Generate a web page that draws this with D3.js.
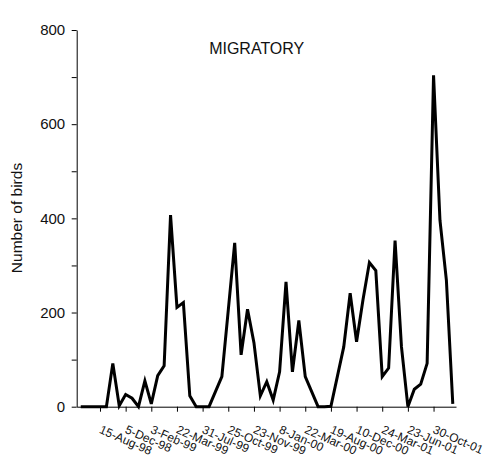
<!DOCTYPE html>
<html>
<head>
<meta charset="utf-8">
<script src="https://cdn.jsdelivr.net/npm/d3@7"></script>
<style>
  body { margin: 0; background: #fff; }
  text { font-family: "Liberation Sans", Arial, sans-serif; fill: #111; }
</style>
</head>
<body>
<div id="chart"></div>
<script>
// Counts per survey (59 surveys)
const birds = [0, 0, 0, 0, 0, 92, 2, 26, 18, 0,
               55, 6, 66, 87, 407, 211, 221, 23, 0, 0,
               0, 32, 64, 205, 348, 110, 207, 136, 23, 53,
               14, 74, 265, 74, 183, 64, 32, 0, 0, 1,
               64, 127, 241, 138, 227, 306, 289, 64, 82, 353,
               127, 0, 37, 48, 92, 704, 396, 269, 6];

// Dates shown on the axis (every 4th survey, starting at the 4th)
const tickLabels = ["15-Aug-98", "5-Dec-98", "3-Feb-99", "22-Mar-99", "31-Jul-99",
                    "25-Oct-99", "23-Nov-99", "8-Jan-00", "22-Mar-00", "19-Aug-00",
                    "10-Dec-00", "24-Mar-01", "23-Jun-01", "30-Oct-01"];
const tickIndex = tickLabels.map((d, i) => 3 + i * 4);

const yTicks = d3.range(0, 801, 100);

let width = 486, height = 456;
let margin = { top: 30, bottom: 49.3, left: 76.7, right: 30 };

let svg = d3.select('#chart')
            .append('svg')
            .attr('width', width)
            .attr('height', height);

// Scales
let xScale = d3.scaleLinear()
               .domain([-0.63, 58.5])
               .range([margin.left, width - margin.right]);

let yScale = d3.scaleLinear()
               .domain([0, 800])
               .range([height - margin.bottom, margin.top]);

// x axis
let xAxis = svg.append('g')
  .attr('transform', `translate(0,${height - margin.bottom})`)
  .call(d3.axisBottom(xScale)
          .tickValues(tickIndex)
          .tickFormat('')
          .tickSize(5)
          .tickSizeOuter(0));

xAxis.selectAll('path, line').attr('stroke', '#000');

// rotated date labels
svg.append('g')
  .selectAll('text')
  .data(tickIndex)
  .enter()
  .append('text')
  .attr('transform', d => `translate(${xScale(d) + 2},${height - margin.bottom + 18}) rotate(24)`)
  .attr('dy', '0.71em')
  .attr('font-size', 12)
  .text((d, i) => tickLabels[i]);

// y axis
let yAxis = svg.append('g')
  .attr('transform', `translate(${margin.left},0)`)
  .call(d3.axisLeft(yScale)
          .tickValues(yTicks)
          .tickFormat(d => d % 200 === 0 ? d : '')
          .tickSize(5)
          .tickPadding(6.5)
          .tickSizeOuter(0));

yAxis.selectAll('path, line').attr('stroke', '#000');
yAxis.selectAll('text')
     .attr('font-size', 15)
     .attr('font-family', '"Liberation Sans", Arial, sans-serif')
     .attr('fill', '#111');

// y axis label
svg.append('text')
   .attr('transform', 'translate(21.7,218) rotate(-90)')
   .attr('text-anchor', 'middle')
   .attr('font-size', 15.5)
   .text('Number of birds');

// title
svg.append('text')
   .attr('x', 256.7)
   .attr('y', 54.3)
   .attr('text-anchor', 'middle')
   .attr('font-size', 16)
   .text('MIGRATORY');

// the line
let line = d3.line()
             .x((d, i) => xScale(i))
             .y(d => yScale(d));

svg.append('path')
   .datum(birds)
   .attr('fill', 'none')
   .attr('stroke', '#000')
   .attr('stroke-width', 3)
   .attr('stroke-linejoin', 'miter')
   .attr('d', line);
</script>
</body>
</html>
